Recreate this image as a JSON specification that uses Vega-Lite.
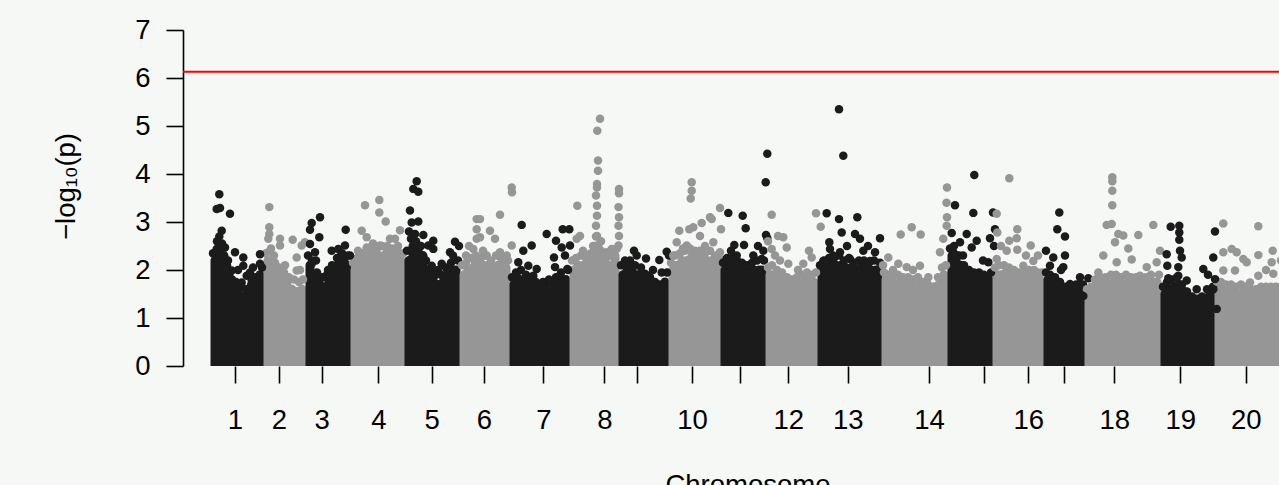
{
  "$schema": "https://vega.github.io/schema/vega-lite/v6.json",
  "width": 1124,
  "height": 336,
  "autosize": "none",
  "padding": {"left": 183, "top": 30, "right": 0, "bottom": 130},
  "background": "#f6f8f5",
  "config": {"view": {"stroke": null}, "font": "Liberation Sans"},
  "datasets": {
    "core": [
      {"c":1,"x":32,"y":2.2},{"c":1,"x":36,"y":2.45},{"c":1,"x":41,"y":2.3},{"c":1,"x":46,"y":1.9},{"c":1,"x":51,"y":1.6},{"c":1,"x":56,"y":1.5},{"c":1,"x":61,"y":1.45},{"c":1,"x":66,"y":1.5},{"c":1,"x":71,"y":1.6},{"c":1,"x":77,"y":1.9},
      {"c":2,"x":85,"y":2.2},{"c":2,"x":89,"y":2.15},{"c":2,"x":94,"y":1.95},{"c":2,"x":99,"y":1.85},{"c":2,"x":104,"y":1.7},{"c":2,"x":109,"y":1.6},{"c":2,"x":114,"y":1.55},{"c":2,"x":119,"y":1.6},
      {"c":3,"x":127,"y":2.1},{"c":3,"x":131,"y":1.9},{"c":3,"x":136,"y":1.75},{"c":3,"x":141,"y":1.65},{"c":3,"x":146,"y":1.75},{"c":3,"x":151,"y":1.95},{"c":3,"x":156,"y":2.1},{"c":3,"x":161,"y":2.2},{"c":3,"x":164,"y":2.1},
      {"c":4,"x":172,"y":2.0},{"c":4,"x":176,"y":2.1},{"c":4,"x":181,"y":2.2},{"c":4,"x":186,"y":2.3},{"c":4,"x":191,"y":2.35},{"c":4,"x":196,"y":2.3},{"c":4,"x":201,"y":2.3},{"c":4,"x":206,"y":2.35},{"c":4,"x":211,"y":2.3},{"c":4,"x":216,"y":2.3},{"c":4,"x":218,"y":2.2},
      {"c":5,"x":226,"y":2.2},{"c":5,"x":230,"y":2.5},{"c":5,"x":235,"y":2.5},{"c":5,"x":240,"y":2.3},{"c":5,"x":245,"y":2.0},{"c":5,"x":250,"y":1.8},{"c":5,"x":255,"y":1.7},{"c":5,"x":260,"y":1.75},{"c":5,"x":265,"y":1.9},{"c":5,"x":270,"y":2.0},{"c":5,"x":273,"y":2.0},
      {"c":6,"x":281,"y":1.9},{"c":6,"x":285,"y":2.0},{"c":6,"x":290,"y":2.05},{"c":6,"x":295,"y":2.1},{"c":6,"x":300,"y":2.1},{"c":6,"x":305,"y":2.1},{"c":6,"x":310,"y":2.05},{"c":6,"x":315,"y":2.1},{"c":6,"x":320,"y":2.1},{"c":6,"x":323,"y":2.05},
      {"c":7,"x":331,"y":1.7},{"c":7,"x":335,"y":1.8},{"c":7,"x":340,"y":1.8},{"c":7,"x":345,"y":1.75},{"c":7,"x":350,"y":1.7},{"c":7,"x":355,"y":1.6},{"c":7,"x":360,"y":1.55},{"c":7,"x":365,"y":1.55},{"c":7,"x":370,"y":1.6},{"c":7,"x":375,"y":1.7},{"c":7,"x":380,"y":1.8},{"c":7,"x":383,"y":1.8},
      {"c":8,"x":391,"y":2.0},{"c":8,"x":395,"y":2.1},{"c":8,"x":400,"y":2.1},{"c":8,"x":405,"y":2.1},{"c":8,"x":410,"y":2.2},{"c":8,"x":415,"y":2.5},{"c":8,"x":420,"y":2.2},{"c":8,"x":425,"y":2.1},{"c":8,"x":430,"y":2.1},{"c":8,"x":432,"y":2.3},
      {"c":9,"x":440,"y":1.9},{"c":9,"x":444,"y":2.0},{"c":9,"x":449,"y":2.0},{"c":9,"x":454,"y":1.9},{"c":9,"x":459,"y":1.75},{"c":9,"x":464,"y":1.7},{"c":9,"x":469,"y":1.7},{"c":9,"x":474,"y":1.6},{"c":9,"x":479,"y":1.5},{"c":9,"x":482,"y":1.75},
      {"c":10,"x":490,"y":2.0},{"c":10,"x":494,"y":2.1},{"c":10,"x":499,"y":2.2},{"c":10,"x":504,"y":2.2},{"c":10,"x":509,"y":2.3},{"c":10,"x":514,"y":2.2},{"c":10,"x":519,"y":2.25},{"c":10,"x":524,"y":2.2},{"c":10,"x":529,"y":2.2},{"c":10,"x":534,"y":2.1},
      {"c":11,"x":542,"y":2.0},{"c":11,"x":546,"y":2.1},{"c":11,"x":551,"y":2.1},{"c":11,"x":556,"y":2.1},{"c":11,"x":561,"y":2.0},{"c":11,"x":566,"y":1.95},{"c":11,"x":571,"y":2.0},{"c":11,"x":576,"y":2.0},{"c":11,"x":579,"y":2.0},
      {"c":12,"x":587,"y":1.9},{"c":12,"x":591,"y":1.9},{"c":12,"x":596,"y":1.85},{"c":12,"x":601,"y":1.8},{"c":12,"x":606,"y":1.7},{"c":12,"x":611,"y":1.6},{"c":12,"x":616,"y":1.7},{"c":12,"x":621,"y":1.75},{"c":12,"x":626,"y":1.8},{"c":12,"x":631,"y":1.75},
      {"c":13,"x":639,"y":1.95},{"c":13,"x":643,"y":2.05},{"c":13,"x":648,"y":2.1},{"c":13,"x":653,"y":2.1},{"c":13,"x":658,"y":2.1},{"c":13,"x":663,"y":2.05},{"c":13,"x":668,"y":2.05},{"c":13,"x":673,"y":2.0},{"c":13,"x":678,"y":2.05},{"c":13,"x":683,"y":2.05},{"c":13,"x":688,"y":2.0},{"c":13,"x":693,"y":2.0},{"c":13,"x":695,"y":2.0},
      {"c":14,"x":703,"y":1.8},{"c":14,"x":707,"y":1.75},{"c":14,"x":712,"y":1.7},{"c":14,"x":717,"y":1.75},{"c":14,"x":722,"y":1.7},{"c":14,"x":727,"y":1.7},{"c":14,"x":732,"y":1.65},{"c":14,"x":737,"y":1.7},{"c":14,"x":742,"y":1.6},{"c":14,"x":747,"y":1.55},{"c":14,"x":752,"y":1.5},{"c":14,"x":757,"y":1.7},{"c":14,"x":761,"y":1.9},
      {"c":15,"x":769,"y":2.3},{"c":15,"x":773,"y":2.3},{"c":15,"x":778,"y":2.1},{"c":15,"x":783,"y":1.95},{"c":15,"x":788,"y":1.85},{"c":15,"x":793,"y":1.8},{"c":15,"x":798,"y":1.8},{"c":15,"x":803,"y":1.75},{"c":15,"x":806,"y":1.8},
      {"c":16,"x":814,"y":1.9},{"c":16,"x":818,"y":1.9},{"c":16,"x":823,"y":1.95},{"c":16,"x":828,"y":1.9},{"c":16,"x":833,"y":1.85},{"c":16,"x":838,"y":1.8},{"c":16,"x":843,"y":1.8},{"c":16,"x":848,"y":1.85},{"c":16,"x":853,"y":1.85},{"c":16,"x":857,"y":1.8},
      {"c":17,"x":865,"y":1.8},{"c":17,"x":869,"y":1.75},{"c":17,"x":874,"y":1.7},{"c":17,"x":879,"y":1.6},{"c":17,"x":884,"y":1.5},{"c":17,"x":889,"y":1.45},{"c":17,"x":894,"y":1.45},{"c":17,"x":898,"y":1.55},
      {"c":18,"x":906,"y":1.45},{"c":18,"x":910,"y":1.5},{"c":18,"x":915,"y":1.6},{"c":18,"x":920,"y":1.7},{"c":18,"x":925,"y":1.7},{"c":18,"x":930,"y":1.75},{"c":18,"x":935,"y":1.75},{"c":18,"x":940,"y":1.7},{"c":18,"x":945,"y":1.75},{"c":18,"x":950,"y":1.7},{"c":18,"x":955,"y":1.7},{"c":18,"x":960,"y":1.65},{"c":18,"x":965,"y":1.7},{"c":18,"x":970,"y":1.75},{"c":18,"x":974,"y":1.75},
      {"c":19,"x":982,"y":1.5},{"c":19,"x":986,"y":1.6},{"c":19,"x":991,"y":1.65},{"c":19,"x":996,"y":1.7},{"c":19,"x":1001,"y":1.55},{"c":19,"x":1006,"y":1.4},{"c":19,"x":1011,"y":1.3},{"c":19,"x":1016,"y":1.25},{"c":19,"x":1021,"y":1.3},{"c":19,"x":1026,"y":1.45},{"c":19,"x":1028,"y":1.5},
      {"c":20,"x":1036,"y":1.6},{"c":20,"x":1040,"y":1.6},{"c":20,"x":1045,"y":1.55},{"c":20,"x":1050,"y":1.55},{"c":20,"x":1055,"y":1.5},{"c":20,"x":1060,"y":1.55},{"c":20,"x":1065,"y":1.5},{"c":20,"x":1070,"y":1.45},{"c":20,"x":1075,"y":1.45},{"c":20,"x":1080,"y":1.5},{"c":20,"x":1085,"y":1.5},{"c":20,"x":1090,"y":1.5},{"c":20,"x":1095,"y":1.5},{"c":20,"x":1100,"y":1.5},{"c":20,"x":1105,"y":1.5}
    ],
    "band": [
      {"c":1,"x":30,"y":2.35},{"c":1,"x":34,"y":2.6},{"c":1,"x":39,"y":2.55},{"c":1,"x":44,"y":2.1},{"c":1,"x":49,"y":1.8},{"c":1,"x":53,"y":1.75},{"c":1,"x":58,"y":1.65},{"c":1,"x":63,"y":1.6},{"c":1,"x":68,"y":1.68},{"c":1,"x":73,"y":1.8},{"c":1,"x":79,"y":2.05},
      {"c":2,"x":83,"y":2.35},{"c":2,"x":87,"y":2.4},{"c":2,"x":92,"y":2.15},{"c":2,"x":96,"y":2.05},{"c":2,"x":101,"y":1.95},{"c":2,"x":106,"y":1.85},{"c":2,"x":111,"y":1.8},{"c":2,"x":116,"y":1.75},{"c":2,"x":120,"y":1.8},
      {"c":3,"x":125,"y":2.3},{"c":3,"x":129,"y":2.2},{"c":3,"x":134,"y":1.95},{"c":3,"x":139,"y":1.85},{"c":3,"x":144,"y":1.9},{"c":3,"x":149,"y":2.1},{"c":3,"x":154,"y":2.25},{"c":3,"x":159,"y":2.35},{"c":3,"x":165,"y":2.3},
      {"c":4,"x":170,"y":2.15},{"c":4,"x":174,"y":2.25},{"c":4,"x":179,"y":2.35},{"c":4,"x":184,"y":2.45},{"c":4,"x":189,"y":2.5},{"c":4,"x":194,"y":2.45},{"c":4,"x":199,"y":2.5},{"c":4,"x":204,"y":2.5},{"c":4,"x":209,"y":2.45},{"c":4,"x":214,"y":2.45},{"c":4,"x":220,"y":2.35},
      {"c":5,"x":224,"y":2.4},{"c":5,"x":228,"y":2.65},{"c":5,"x":233,"y":2.6},{"c":5,"x":238,"y":2.5},{"c":5,"x":243,"y":2.2},{"c":5,"x":248,"y":2.0},{"c":5,"x":253,"y":1.9},{"c":5,"x":258,"y":1.9},{"c":5,"x":263,"y":2.05},{"c":5,"x":268,"y":2.15},{"c":5,"x":275,"y":2.2},
      {"c":6,"x":279,"y":2.1},{"c":6,"x":283,"y":2.15},{"c":6,"x":288,"y":2.25},{"c":6,"x":293,"y":2.3},{"c":6,"x":298,"y":2.25},{"c":6,"x":303,"y":2.3},{"c":6,"x":308,"y":2.2},{"c":6,"x":313,"y":2.3},{"c":6,"x":318,"y":2.25},{"c":6,"x":325,"y":2.2},
      {"c":7,"x":329,"y":1.85},{"c":7,"x":333,"y":1.95},{"c":7,"x":338,"y":2.0},{"c":7,"x":343,"y":1.9},{"c":7,"x":348,"y":1.85},{"c":7,"x":353,"y":1.75},{"c":7,"x":358,"y":1.7},{"c":7,"x":363,"y":1.7},{"c":7,"x":368,"y":1.75},{"c":7,"x":373,"y":1.85},{"c":7,"x":378,"y":1.95},{"c":7,"x":385,"y":2.0},
      {"c":8,"x":389,"y":2.2},{"c":8,"x":393,"y":2.25},{"c":8,"x":398,"y":2.3},{"c":8,"x":403,"y":2.25},{"c":8,"x":408,"y":2.35},{"c":8,"x":413,"y":2.7},{"c":8,"x":418,"y":2.4},{"c":8,"x":423,"y":2.25},{"c":8,"x":428,"y":2.3},{"c":8,"x":434,"y":2.45},
      {"c":9,"x":438,"y":2.1},{"c":9,"x":442,"y":2.15},{"c":9,"x":447,"y":2.2},{"c":9,"x":452,"y":2.1},{"c":9,"x":457,"y":1.9},{"c":9,"x":462,"y":1.85},{"c":9,"x":467,"y":1.85},{"c":9,"x":472,"y":1.75},{"c":9,"x":477,"y":1.7},{"c":9,"x":484,"y":1.95},
      {"c":10,"x":488,"y":2.15},{"c":10,"x":492,"y":2.3},{"c":10,"x":497,"y":2.35},{"c":10,"x":502,"y":2.4},{"c":10,"x":507,"y":2.45},{"c":10,"x":512,"y":2.4},{"c":10,"x":517,"y":2.4},{"c":10,"x":522,"y":2.35},{"c":10,"x":527,"y":2.4},{"c":10,"x":532,"y":2.3},{"c":10,"x":536,"y":2.25},
      {"c":11,"x":540,"y":2.15},{"c":11,"x":544,"y":2.25},{"c":11,"x":549,"y":2.25},{"c":11,"x":554,"y":2.2},{"c":11,"x":559,"y":2.15},{"c":11,"x":564,"y":2.1},{"c":11,"x":569,"y":2.15},{"c":11,"x":574,"y":2.2},{"c":11,"x":581,"y":2.2},
      {"c":12,"x":585,"y":2.05},{"c":12,"x":589,"y":2.1},{"c":12,"x":594,"y":2.0},{"c":12,"x":599,"y":1.95},{"c":12,"x":604,"y":1.85},{"c":12,"x":609,"y":1.8},{"c":12,"x":614,"y":1.85},{"c":12,"x":619,"y":1.9},{"c":12,"x":624,"y":1.95},{"c":12,"x":629,"y":1.9},{"c":12,"x":633,"y":1.95},
      {"c":13,"x":637,"y":2.1},{"c":13,"x":641,"y":2.2},{"c":13,"x":646,"y":2.25},{"c":13,"x":651,"y":2.25},{"c":13,"x":656,"y":2.3},{"c":13,"x":661,"y":2.2},{"c":13,"x":666,"y":2.25},{"c":13,"x":671,"y":2.15},{"c":13,"x":676,"y":2.2},{"c":13,"x":681,"y":2.2},{"c":13,"x":686,"y":2.15},{"c":13,"x":691,"y":2.2},{"c":13,"x":697,"y":2.15},
      {"c":14,"x":701,"y":1.95},{"c":14,"x":705,"y":1.9},{"c":14,"x":710,"y":1.85},{"c":14,"x":715,"y":1.9},{"c":14,"x":720,"y":1.85},{"c":14,"x":725,"y":1.85},{"c":14,"x":730,"y":1.8},{"c":14,"x":735,"y":1.85},{"c":14,"x":740,"y":1.75},{"c":14,"x":745,"y":1.7},{"c":14,"x":750,"y":1.65},{"c":14,"x":755,"y":1.85},{"c":14,"x":759,"y":2.05},{"c":14,"x":763,"y":2.1},
      {"c":15,"x":767,"y":2.45},{"c":15,"x":771,"y":2.5},{"c":15,"x":776,"y":2.3},{"c":15,"x":781,"y":2.1},{"c":15,"x":786,"y":2.0},{"c":15,"x":791,"y":1.95},{"c":15,"x":796,"y":1.95},{"c":15,"x":801,"y":1.9},{"c":15,"x":808,"y":1.95},
      {"c":16,"x":812,"y":2.05},{"c":16,"x":816,"y":2.1},{"c":16,"x":821,"y":2.1},{"c":16,"x":826,"y":2.05},{"c":16,"x":831,"y":2.0},{"c":16,"x":836,"y":1.95},{"c":16,"x":841,"y":1.95},{"c":16,"x":846,"y":2.0},{"c":16,"x":851,"y":2.0},{"c":16,"x":855,"y":1.95},{"c":16,"x":859,"y":1.95},
      {"c":17,"x":863,"y":1.95},{"c":17,"x":867,"y":1.9},{"c":17,"x":872,"y":1.85},{"c":17,"x":877,"y":1.75},{"c":17,"x":882,"y":1.65},{"c":17,"x":887,"y":1.6},{"c":17,"x":892,"y":1.6},{"c":17,"x":896,"y":1.7},{"c":17,"x":900,"y":1.7},
      {"c":18,"x":904,"y":1.6},{"c":18,"x":908,"y":1.65},{"c":18,"x":913,"y":1.75},{"c":18,"x":918,"y":1.85},{"c":18,"x":923,"y":1.85},{"c":18,"x":928,"y":1.9},{"c":18,"x":933,"y":1.9},{"c":18,"x":938,"y":1.85},{"c":18,"x":943,"y":1.9},{"c":18,"x":948,"y":1.85},{"c":18,"x":953,"y":1.85},{"c":18,"x":958,"y":1.8},{"c":18,"x":963,"y":1.85},{"c":18,"x":968,"y":1.9},{"c":18,"x":976,"y":1.9},
      {"c":19,"x":980,"y":1.65},{"c":19,"x":984,"y":1.75},{"c":19,"x":989,"y":1.8},{"c":19,"x":994,"y":1.85},{"c":19,"x":999,"y":1.7},{"c":19,"x":1004,"y":1.55},{"c":19,"x":1009,"y":1.45},{"c":19,"x":1014,"y":1.4},{"c":19,"x":1019,"y":1.45},{"c":19,"x":1024,"y":1.6},{"c":19,"x":1030,"y":1.65},
      {"c":20,"x":1034,"y":1.75},{"c":20,"x":1038,"y":1.75},{"c":20,"x":1043,"y":1.7},{"c":20,"x":1048,"y":1.7},{"c":20,"x":1053,"y":1.65},{"c":20,"x":1058,"y":1.7},{"c":20,"x":1063,"y":1.65},{"c":20,"x":1068,"y":1.6},{"c":20,"x":1073,"y":1.6},{"c":20,"x":1078,"y":1.65},{"c":20,"x":1083,"y":1.65},{"c":20,"x":1088,"y":1.65},{"c":20,"x":1093,"y":1.65},{"c":20,"x":1098,"y":1.65},{"c":20,"x":1103,"y":1.65},{"c":20,"x":1108,"y":1.6}
    ],
    "snp": [
      {"c":1,"x":36.3,"y":3.58},{"c":1,"x":33.7,"y":3.27},{"c":1,"x":37,"y":3.29},{"c":1,"x":47,"y":3.17},{"c":1,"x":38.7,"y":2.82},{"c":1,"x":36.3,"y":2.7},{"c":1,"x":33.7,"y":2.44},{"c":1,"x":42,"y":2.47},{"c":1,"x":52,"y":2.37},{"c":1,"x":60.3,"y":2.26},{"c":1,"x":77,"y":2.33},{"c":1,"x":48.7,"y":1.99},{"c":1,"x":60.3,"y":2.09},{"c":1,"x":67,"y":1.95},{"c":1,"x":58.7,"y":1.74},{"c":1,"x":68.7,"y":1.78},{"c":1,"x":77,"y":2.13},{"c":1,"x":72,"y":1.85},{"c":1,"x":63.7,"y":1.88},{"c":1,"x":45,"y":2.2},{"c":1,"x":55,"y":2.0},{"c":1,"x":70,"y":2.05},{"c":1,"x":74,"y":1.7},
      {"c":2,"x":86.3,"y":3.31},{"c":2,"x":86.3,"y":2.89},{"c":2,"x":86.3,"y":2.75},{"c":2,"x":85.3,"y":2.65},{"c":2,"x":97,"y":2.65},{"c":2,"x":97,"y":2.51},{"c":2,"x":109.7,"y":2.63},{"c":2,"x":113.7,"y":2.26},{"c":2,"x":118.7,"y":2.51},{"c":2,"x":122,"y":2.58},{"c":2,"x":113.7,"y":1.99},{"c":2,"x":107,"y":1.81},{"c":2,"x":97,"y":1.92},{"c":2,"x":103.7,"y":1.67},{"c":2,"x":91,"y":2.3},{"c":2,"x":88,"y":2.45},{"c":2,"x":102,"y":2.1},{"c":2,"x":117,"y":2.0},
      {"c":3,"x":137,"y":3.1},{"c":3,"x":128.7,"y":2.98},{"c":3,"x":127,"y":2.84},{"c":3,"x":136.3,"y":2.68},{"c":3,"x":162.7,"y":2.84},{"c":3,"x":127,"y":2.54},{"c":3,"x":132,"y":2.37},{"c":3,"x":148.7,"y":2.4},{"c":3,"x":162,"y":2.51},{"c":3,"x":155.3,"y":2.44},{"c":3,"x":167,"y":2.3},{"c":3,"x":128.7,"y":2.13},{"c":3,"x":140.3,"y":1.85},{"c":3,"x":152,"y":2.09},{"c":3,"x":158,"y":2.3},{"c":3,"x":145,"y":2.0},{"c":3,"x":133,"y":2.2},
      {"c":4,"x":182,"y":3.35},{"c":4,"x":196.3,"y":3.46},{"c":4,"x":196.3,"y":3.2},{"c":4,"x":202.7,"y":3.01},{"c":4,"x":217,"y":2.83},{"c":4,"x":178.7,"y":2.82},{"c":4,"x":183.7,"y":2.68},{"c":4,"x":207,"y":2.65},{"c":4,"x":212,"y":2.65},{"c":4,"x":183.7,"y":2.47},{"c":4,"x":197,"y":2.51},{"c":4,"x":203.7,"y":2.44},{"c":4,"x":175,"y":2.4},{"c":4,"x":190,"y":2.55},{"c":4,"x":215,"y":2.5},
      {"c":5,"x":233.7,"y":3.85},{"c":5,"x":230.3,"y":3.69},{"c":5,"x":235.3,"y":3.63},{"c":5,"x":227,"y":3.24},{"c":5,"x":228.7,"y":2.99},{"c":5,"x":235.3,"y":3.01},{"c":5,"x":240.3,"y":2.73},{"c":5,"x":250.3,"y":2.61},{"c":5,"x":245.3,"y":2.51},{"c":5,"x":272,"y":2.59},{"c":5,"x":276,"y":2.5},{"c":5,"x":258.7,"y":2.13},{"c":5,"x":267,"y":2.37},{"c":5,"x":263.7,"y":2.02},{"c":5,"x":250.3,"y":2.44},{"c":5,"x":248.7,"y":2.09},{"c":5,"x":226,"y":2.8},{"c":5,"x":232,"y":2.75},{"c":5,"x":270,"y":2.3},{"c":5,"x":255,"y":2.0},
      {"c":6,"x":293.7,"y":3.06},{"c":6,"x":293.7,"y":2.85},{"c":6,"x":293.7,"y":2.65},{"c":6,"x":290.3,"y":2.44},{"c":6,"x":292,"y":2.16},{"c":6,"x":297,"y":3.06},{"c":6,"x":307,"y":2.82},{"c":6,"x":317,"y":3.15},{"c":6,"x":328.7,"y":3.72},{"c":6,"x":329,"y":3.62},{"c":6,"x":297,"y":2.68},{"c":6,"x":312,"y":2.65},{"c":6,"x":328.7,"y":2.51},{"c":6,"x":317,"y":2.37},{"c":6,"x":303.7,"y":2.3},{"c":6,"x":323.7,"y":2.3},{"c":6,"x":283,"y":2.3},{"c":6,"x":286,"y":2.5},{"c":6,"x":300,"y":2.4},
      {"c":7,"x":338.7,"y":2.94},{"c":7,"x":348.7,"y":2.51},{"c":7,"x":340.3,"y":2.4},{"c":7,"x":335.3,"y":2.16},{"c":7,"x":345.3,"y":2.09},{"c":7,"x":353.7,"y":2.02},{"c":7,"x":363.7,"y":2.75},{"c":7,"x":373,"y":2.61},{"c":7,"x":379.7,"y":2.85},{"c":7,"x":386.3,"y":2.85},{"c":7,"x":378.7,"y":2.47},{"c":7,"x":387,"y":2.51},{"c":7,"x":371,"y":2.26},{"c":7,"x":372,"y":2.06},{"c":7,"x":382,"y":2.3},{"c":7,"x":384.3,"y":2.02},{"c":7,"x":333.7,"y":1.88},{"c":7,"x":350.3,"y":1.88},{"c":7,"x":377,"y":1.88},{"c":7,"x":360,"y":1.75},{"c":7,"x":366,"y":1.8},
      {"c":8,"x":417,"y":5.15},{"c":8,"x":414.3,"y":4.9},{"c":8,"x":415,"y":4.28},{"c":8,"x":415,"y":4.07},{"c":8,"x":414,"y":3.79},{"c":8,"x":414,"y":3.72},{"c":8,"x":413,"y":3.55},{"c":8,"x":414,"y":3.34},{"c":8,"x":414,"y":3.13},{"c":8,"x":413,"y":2.92},{"c":8,"x":414,"y":2.71},{"c":8,"x":414,"y":2.51},{"c":8,"x":436,"y":3.69},{"c":8,"x":436,"y":3.6},{"c":8,"x":435.5,"y":3.31},{"c":8,"x":436,"y":3.1},{"c":8,"x":435.5,"y":2.92},{"c":8,"x":436,"y":2.71},{"c":8,"x":435.5,"y":2.51},{"c":8,"x":394.3,"y":3.34},{"c":8,"x":397,"y":2.71},{"c":8,"x":393.7,"y":2.65},{"c":8,"x":405.3,"y":2.3},{"c":8,"x":423.7,"y":2.37},{"c":8,"x":428.7,"y":2.44},{"c":8,"x":420.3,"y":2.23},{"c":8,"x":400,"y":2.4},{"c":8,"x":410,"y":2.5},{"c":8,"x":418,"y":2.6},
      {"c":9,"x":451,"y":2.4},{"c":9,"x":453.7,"y":2.3},{"c":9,"x":445.3,"y":2.16},{"c":9,"x":463,"y":2.24},{"c":9,"x":462,"y":1.92},{"c":9,"x":465.3,"y":1.88},{"c":9,"x":476.3,"y":2.21},{"c":9,"x":483.7,"y":2.38},{"c":9,"x":478.7,"y":1.95},{"c":9,"x":479.7,"y":1.67},{"c":9,"x":442,"y":2.2},{"c":9,"x":458,"y":2.05},{"c":9,"x":470,"y":2.0},{"c":9,"x":486,"y":2.3},
      {"c":10,"x":508.7,"y":3.83},{"c":10,"x":508.7,"y":3.65},{"c":10,"x":507.7,"y":3.49},{"c":10,"x":496.3,"y":2.82},{"c":10,"x":506.3,"y":2.85},{"c":10,"x":510.3,"y":2.89},{"c":10,"x":518.7,"y":2.98},{"c":10,"x":527,"y":3.1},{"c":10,"x":528.7,"y":3.06},{"c":10,"x":537,"y":3.29},{"c":10,"x":538,"y":2.85},{"c":10,"x":493.7,"y":2.58},{"c":10,"x":517,"y":2.71},{"c":10,"x":530.3,"y":2.58},{"c":10,"x":537,"y":2.37},{"c":10,"x":503.7,"y":2.51},{"c":10,"x":513.7,"y":2.37},{"c":10,"x":490.3,"y":2.3},{"c":10,"x":522,"y":2.5},{"c":10,"x":500,"y":2.45},
      {"c":11,"x":584.3,"y":4.42},{"c":11,"x":582.7,"y":3.83},{"c":11,"x":545.3,"y":3.19},{"c":11,"x":559.7,"y":3.13},{"c":11,"x":562.7,"y":2.87},{"c":11,"x":551.3,"y":2.52},{"c":11,"x":561,"y":2.52},{"c":11,"x":583,"y":2.73},{"c":11,"x":584.3,"y":2.66},{"c":11,"x":580.3,"y":2.4},{"c":11,"x":543.7,"y":2.23},{"c":11,"x":553.7,"y":2.3},{"c":11,"x":563.7,"y":2.09},{"c":11,"x":570.3,"y":2.3},{"c":11,"x":578.7,"y":2.23},{"c":11,"x":548,"y":2.4},{"c":11,"x":575,"y":2.5},
      {"c":12,"x":588.7,"y":3.15},{"c":12,"x":600.3,"y":2.68},{"c":12,"x":603.7,"y":2.47},{"c":12,"x":605.3,"y":2.13},{"c":12,"x":620.3,"y":2.13},{"c":12,"x":628.7,"y":2.26},{"c":12,"x":622,"y":1.88},{"c":12,"x":610.3,"y":1.74},{"c":12,"x":633,"y":3.18},{"c":12,"x":637.7,"y":2.9},{"c":12,"x":588.7,"y":2.44},{"c":12,"x":592,"y":2.3},{"c":12,"x":597,"y":2.2},{"c":12,"x":615,"y":2.0},{"c":12,"x":626,"y":2.4},{"c":12,"x":585,"y":2.6},{"c":12,"x":595,"y":2.71},
      {"c":13,"x":656,"y":5.35},{"c":13,"x":660.3,"y":4.38},{"c":13,"x":643.7,"y":3.18},{"c":13,"x":656,"y":3.06},{"c":13,"x":674.3,"y":3.1},{"c":13,"x":658.7,"y":2.78},{"c":13,"x":672,"y":2.75},{"c":13,"x":677,"y":2.65},{"c":13,"x":646.3,"y":2.58},{"c":13,"x":697,"y":2.66},{"c":13,"x":680.3,"y":2.4},{"c":13,"x":692,"y":2.37},{"c":13,"x":657,"y":2.37},{"c":13,"x":647,"y":2.44},{"c":13,"x":640.3,"y":2.19},{"c":13,"x":667,"y":2.23},{"c":13,"x":687,"y":2.19},{"c":13,"x":650,"y":2.3},{"c":13,"x":664,"y":2.5},{"c":13,"x":685,"y":2.5},
      {"c":14,"x":728.7,"y":2.89},{"c":14,"x":717.7,"y":2.74},{"c":14,"x":737.7,"y":2.74},{"c":14,"x":705.3,"y":2.26},{"c":14,"x":715.3,"y":2.13},{"c":14,"x":723.7,"y":2.06},{"c":14,"x":737,"y":2.09},{"c":14,"x":745.3,"y":1.85},{"c":14,"x":753.7,"y":1.67},{"c":14,"x":764,"y":3.72},{"c":14,"x":763.5,"y":3.4},{"c":14,"x":764,"y":3.1},{"c":14,"x":763.7,"y":2.92},{"c":14,"x":760.3,"y":2.65},{"c":14,"x":757,"y":2.37},{"c":14,"x":710,"y":2.0},{"c":14,"x":730,"y":2.0},{"c":14,"x":700,"y":2.1},
      {"c":15,"x":791.3,"y":3.98},{"c":15,"x":772,"y":3.35},{"c":15,"x":790.3,"y":3.19},{"c":15,"x":810,"y":3.2},{"c":15,"x":768.7,"y":2.77},{"c":15,"x":783.7,"y":2.75},{"c":15,"x":777,"y":2.58},{"c":15,"x":793.7,"y":2.61},{"c":15,"x":788.7,"y":2.47},{"c":15,"x":807,"y":2.66},{"c":15,"x":812,"y":2.85},{"c":15,"x":811,"y":2.5},{"c":15,"x":805.3,"y":2.16},{"c":15,"x":797,"y":1.88},{"c":15,"x":770.3,"y":2.37},{"c":15,"x":780,"y":2.3},{"c":15,"x":800,"y":2.2},
      {"c":16,"x":826.3,"y":3.91},{"c":16,"x":813.7,"y":3.17},{"c":16,"x":814.3,"y":2.78},{"c":16,"x":834.3,"y":2.85},{"c":16,"x":833.7,"y":2.66},{"c":16,"x":826.3,"y":2.61},{"c":16,"x":823.7,"y":2.4},{"c":16,"x":834.3,"y":2.42},{"c":16,"x":847.7,"y":2.51},{"c":16,"x":813.7,"y":2.23},{"c":16,"x":850.3,"y":2.19},{"c":16,"x":840.3,"y":2.09},{"c":16,"x":830.3,"y":1.99},{"c":16,"x":818,"y":2.5},{"c":16,"x":855,"y":2.3},{"c":16,"x":843,"y":2.3},
      {"c":17,"x":876.3,"y":3.2},{"c":17,"x":874.3,"y":2.85},{"c":17,"x":882,"y":2.7},{"c":17,"x":882,"y":2.3},{"c":17,"x":870.3,"y":2.26},{"c":17,"x":867,"y":2.09},{"c":17,"x":880.3,"y":2.06},{"c":17,"x":897,"y":1.85},{"c":17,"x":905.3,"y":1.83},{"c":17,"x":900.3,"y":1.46},{"c":17,"x":887,"y":1.71},{"c":17,"x":863,"y":2.4},{"c":17,"x":893,"y":1.7},{"c":17,"x":878,"y":2.0},
      {"c":18,"x":929.3,"y":3.93},{"c":18,"x":929.3,"y":3.85},{"c":18,"x":929.3,"y":3.65},{"c":18,"x":929.3,"y":3.35},{"c":18,"x":923.7,"y":2.94},{"c":18,"x":928.7,"y":2.96},{"c":18,"x":970.3,"y":2.94},{"c":18,"x":935.3,"y":2.75},{"c":18,"x":940.3,"y":2.72},{"c":18,"x":955.3,"y":2.73},{"c":18,"x":932,"y":2.58},{"c":18,"x":945.3,"y":2.45},{"c":18,"x":977,"y":2.4},{"c":18,"x":920.3,"y":2.3},{"c":18,"x":948.7,"y":2.22},{"c":18,"x":963.7,"y":2.06},{"c":18,"x":973.7,"y":2.16},{"c":18,"x":915.3,"y":1.95},{"c":18,"x":933.7,"y":2.16},{"c":18,"x":957,"y":1.88},{"c":18,"x":912,"y":1.8},
      {"c":19,"x":987.7,"y":2.9},{"c":19,"x":996.3,"y":2.92},{"c":19,"x":996.3,"y":2.78},{"c":19,"x":996.3,"y":2.63},{"c":19,"x":1032,"y":2.8},{"c":19,"x":983.7,"y":2.33},{"c":19,"x":997,"y":2.4},{"c":19,"x":998.7,"y":2.26},{"c":19,"x":984.3,"y":2.09},{"c":19,"x":995.3,"y":2.06},{"c":19,"x":995.3,"y":1.88},{"c":19,"x":985.3,"y":1.83},{"c":19,"x":1003.7,"y":1.78},{"c":19,"x":1013.7,"y":1.6},{"c":19,"x":1020.3,"y":2.02},{"c":19,"x":1030.3,"y":2.26},{"c":19,"x":1032,"y":1.81},{"c":19,"x":1030.3,"y":1.6},{"c":19,"x":982,"y":1.5},{"c":19,"x":1020.3,"y":1.4},{"c":19,"x":1033.7,"y":1.19},{"c":19,"x":1025,"y":1.9},
      {"c":20,"x":1040.3,"y":2.97},{"c":20,"x":1075.3,"y":2.91},{"c":20,"x":1048.7,"y":2.44},{"c":20,"x":1053.7,"y":2.37},{"c":20,"x":1075.3,"y":2.31},{"c":20,"x":1089.7,"y":2.4},{"c":20,"x":1040.3,"y":2.37},{"c":20,"x":1060.3,"y":2.23},{"c":20,"x":1063.7,"y":2.16},{"c":20,"x":1088.7,"y":2.16},{"c":20,"x":1090.3,"y":1.92},{"c":20,"x":1075.3,"y":1.88},{"c":20,"x":1040.3,"y":1.99},{"c":20,"x":1052,"y":1.99},{"c":20,"x":1067,"y":1.74},{"c":20,"x":1098,"y":2.2},{"c":20,"x":1083,"y":2.0}
    ],
    "threshold": [{"y": 6.13}]
  },
  "layer": [
    {
      "data": {"name": "core"},
      "mark": {"type": "rule", "strokeWidth": 9, "strokeCap": "round", "clip": true},
      "encoding": {
        "x": {
          "field": "x", "type": "quantitative",
          "scale": {"domain": [0, 1124], "nice": false, "zero": false},
          "axis": {
            "values": [52, 96, 138.7, 195.3, 248.7, 301, 360.3, 421.3, 453.7, 509, 557, 605.3, 664.7, 746, 801, 845.3, 881, 931.3, 997.3, 1062.7],
            "labelExpr": "['1','2','3','4','5','6','7','8','','10','','12','13','14','','16','','18','19','20'][indexof([52,96,138.7,195.3,248.7,301,360.3,421.3,453.7,509,557,605.3,664.7,746,801,845.3,881,931.3,997.3,1062.7], datum.value)]",
            "domain": false, "grid": false,
            "ticks": true, "tickSize": 17, "tickWidth": 1.6, "tickColor": "#000000",
            "labelFont": "Liberation Sans", "labelFontSize": 27.5, "labelColor": "#000000",
            "labelPadding": 45, "labelBaseline": "alphabetic",
            "labelOverlap": false, "labelFlush": false, "labelBound": false,
            "title": "Chromosome", "titleFont": "Liberation Sans", "titleFontSize": 27.5,
            "titleFontWeight": "normal", "titleColor": "#000000",
            "titleX": 564.5, "titleY": 127, "titleBaseline": "alphabetic", "titleAlign": "center"
          }
        },
        "y": {
          "field": "y", "type": "quantitative",
          "scale": {"domain": [0, 7], "nice": false, "zero": true},
          "axis": {
            "values": [0, 1, 2, 3, 4, 5, 6, 7],
            "domain": true, "domainColor": "#000000", "domainWidth": 1.6,
            "grid": false,
            "tickSize": 17, "tickWidth": 1.6, "tickColor": "#000000",
            "labelFont": "Liberation Sans", "labelFontSize": 27.5, "labelColor": "#000000",
            "labelPadding": 16, "labelBaseline": "middle",
            "labelOverlap": false, "labelFlush": false, "labelBound": false,
            "title": "−log₁₀(p)", "titleFont": "Liberation Sans", "titleFontSize": 27.5,
            "titleFontWeight": "normal", "titleColor": "#000000",
            "titleAngle": 270, "titleX": -109, "titleY": 156,
            "titleBaseline": "alphabetic", "titleAlign": "center"
          }
        },
        "y2": {"datum": 0},
        "color": {
          "field": "c", "type": "nominal", "legend": null,
          "scale": {
            "domain": [1,2,3,4,5,6,7,8,9,10,11,12,13,14,15,16,17,18,19,20],
            "range": ["#1b1b1b","#969696","#1b1b1b","#969696","#1b1b1b","#969696","#1b1b1b","#969696","#1b1b1b","#969696","#1b1b1b","#969696","#1b1b1b","#969696","#1b1b1b","#969696","#1b1b1b","#969696","#1b1b1b","#969696"]
          }
        }
      }
    },
    {
      "data": {"name": "band"},
      "mark": {"type": "circle", "size": 72, "opacity": 1, "clip": true},
      "encoding": {
        "x": {"field": "x", "type": "quantitative"},
        "y": {"field": "y", "type": "quantitative"},
        "color": {"field": "c", "type": "nominal", "legend": null}
      }
    },
    {
      "data": {"name": "snp"},
      "mark": {"type": "circle", "size": 72, "opacity": 1, "clip": true},
      "encoding": {
        "x": {"field": "x", "type": "quantitative"},
        "y": {"field": "y", "type": "quantitative"},
        "color": {"field": "c", "type": "nominal", "legend": null}
      }
    },
    {
      "data": {"name": "threshold"},
      "mark": {"type": "rule", "color": "#ff0000", "strokeWidth": 2},
      "encoding": {
        "y": {"field": "y", "type": "quantitative"}
      }
    }
  ]
}
